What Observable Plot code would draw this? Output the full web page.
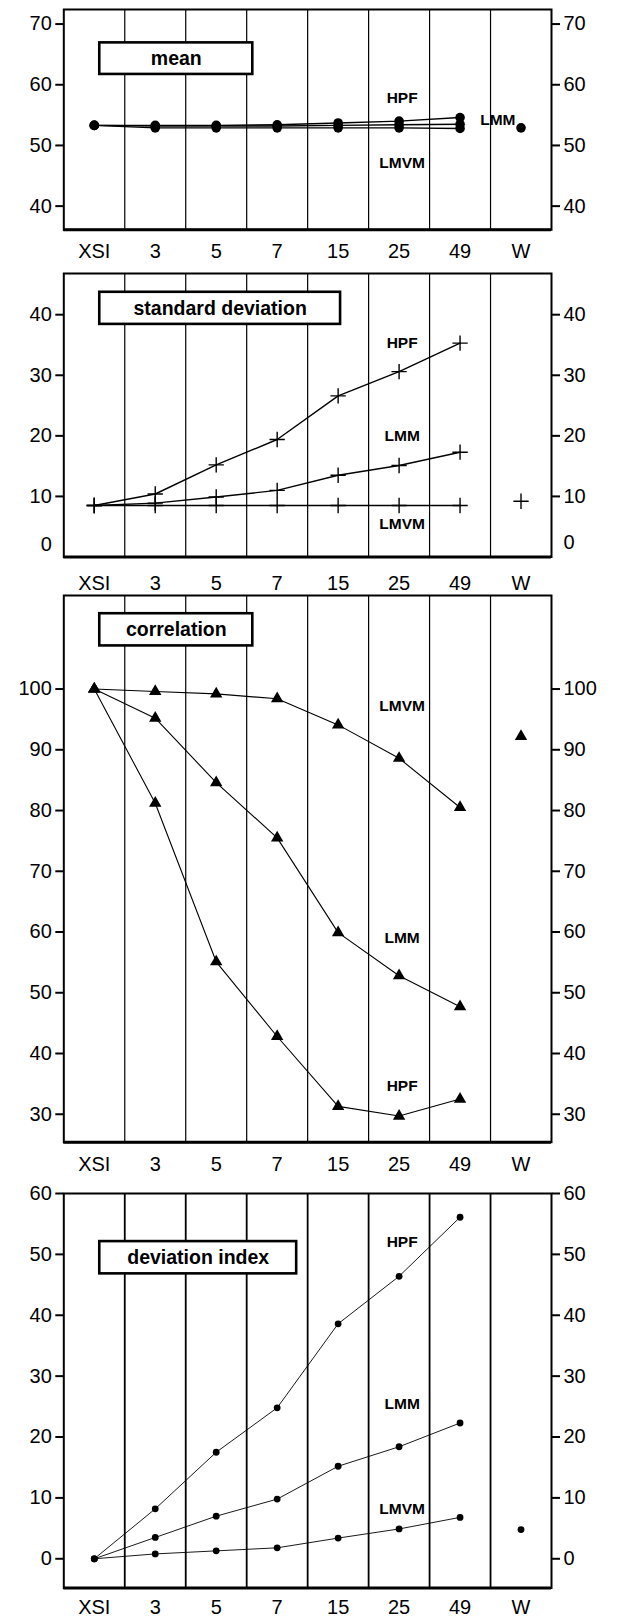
<!DOCTYPE html>
<html><head><meta charset="utf-8">
<script src="https://cdn.jsdelivr.net/npm/d3@7"></script>
<script src="https://cdn.jsdelivr.net/npm/@observablehq/plot@0.6"></script>
<style>
body{margin:0;background:#fff;}
#root{position:relative;width:619px;height:1616px;background:#fff;}
#root svg{position:absolute;left:0;}
</style></head><body><div id="root"></div>
<script>
// ---------- data ----------
const categories = ["XSI","3","5","7","15","25","49","W"];
const methods = ["HPF","LMM","LMVM"];

const meanHPF  = [53.3, 53.3, 53.3, 53.4, 53.7, 54.0, 54.6];
const meanLMM  = [53.3, 53.2, 53.2, 53.2, 53.3, 53.4, 53.5];
const meanLMVM = [53.3, 52.9, 52.9, 52.9, 52.9, 52.9, 52.8];
const meanW    = 52.9;

const sdHPF  = [8.5, 10.4, 15.2, 19.4, 26.6, 30.6, 35.3];
const sdLMM  = [8.5, 8.9, 9.9, 11.0, 13.5, 15.1, 17.3];
const sdLMVM = [8.5, 8.5, 8.5, 8.5, 8.5, 8.5, 8.5];
const sdW    = 9.2;

const corHPF  = [100, 81.2, 55.1, 42.8, 31.3, 29.7, 32.5];
const corLMM  = [100, 95.2, 84.6, 75.5, 59.9, 52.8, 47.7];
const corLMVM = [100, 99.6, 99.2, 98.4, 94.1, 88.6, 80.5];
const corW    = 92.2;

const devHPF  = [0, 8.2, 17.5, 24.8, 38.6, 46.4, 56.1];
const devLMM  = [0, 3.5, 7.0, 9.8, 15.2, 18.4, 22.3];
const devLMVM = [0, 0.8, 1.3, 1.8, 3.4, 4.9, 6.8];
const devW    = 4.8;

const ticksMean = [40, 50, 60, 70];
const ticksSD   = [10, 20, 30, 40];
const ticksCor  = [30, 40, 50, 60, 70, 80, 90, 100];
const ticksDev  = [0, 10, 20, 30, 40, 50, 60];

const titles = ["mean", "standard deviation", "correlation", "deviation index"];

// ---------- layout / style ----------
const FONT = "'Liberation Sans', Arial, Helvetica, sans-serif";
const LEFT = 63.3, RIGHT = 551, W = 619;

function rows(series) {
  const out = [];
  methods.forEach((m, k) => series[k].forEach((v, i) => out.push({method: m, x: i + 0.5, y: v})));
  return out;
}

const panels = [
  {title: titles[0], series: [meanHPF, meanLMM, meanLMVM], w: meanW, ticks: ticksMean,
   top: 9, bottom: 229.3, domain: [36.1, 72.4], gap: 20.7,
   box: {x1: 0.59, x2: 3.1, y1: 61.7, y2: 66.9},
   labels: [{t: "HPF", x: 5.55, y: 57.8}, {t: "LMM", x: 7.12, y: 54.2}, {t: "LMVM", x: 5.55, y: 47.1}],
   symbol: "circle", r: 4.8, filled: true, lw: 1.4, grid: 1.2},
  {title: titles[1], series: [sdHPF, sdLMM, sdLMVM], w: sdW, ticks: ticksSD, zeroShift: true,
   top: 272.5, bottom: 556, domain: [0, 46.8], gap: 25.7,
   box: {x1: 0.59, x2: 4.54, y1: 38.4, y2: 43.7},
   labels: [{t: "HPF", x: 5.55, y: 35.3}, {t: "LMM", x: 5.55, y: 20.05}, {t: "LMVM", x: 5.55, y: 5.45}],
   symbol: "plus", r: 5, filled: false, lw: 1.4, grid: 1.2},
  {title: titles[2], series: [corHPF, corLMM, corLMVM], w: corW, ticks: ticksCor,
   top: 595, bottom: 1141.7, domain: [25.4, 115.4], gap: 21.5,
   box: {x1: 0.59, x2: 3.1, y1: 107.1, y2: 112.4},
   labels: [{t: "LMVM", x: 5.55, y: 97.2}, {t: "LMM", x: 5.55, y: 59.0}, {t: "HPF", x: 5.55, y: 34.6}],
   symbol: "triangle", r: 4.6, filled: true, lw: 1.1, grid: 1.2},
  {title: titles[3], series: [devHPF, devLMM, devLMVM], w: devW, ticks: ticksDev,
   top: 1193, bottom: 1587.5, domain: [-4.8, 60], gap: 19.2,
   box: {x1: 0.59, x2: 3.82, y1: 46.8, y2: 52.1},
   labels: [{t: "HPF", x: 5.55, y: 52.0}, {t: "LMM", x: 5.55, y: 25.5}, {t: "LMVM", x: 5.55, y: 8.1}],
   symbol: "circle", r: 3.4, filled: true, lw: 0.9, grid: 1.8}
];

const root = document.getElementById("root");

panels.forEach(p => {
  const mt = 9, mb = 32;
  const data = rows(p.series);
  const wRow = [{x: categories.length - 0.5, y: p.w}];
  const dotOpts = p.filled
    ? {x: "x", y: "y", symbol: p.symbol, r: p.r, fill: "black", stroke: "none"}
    : {x: "x", y: "y", symbol: p.symbol, r: p.r, fill: "none", stroke: "black", strokeWidth: 1.4};
  const axisCommon = {tickSize: 8, tickPadding: 4, strokeWidth: 2, fontSize: 20, fontFamily: FONT, fill: "black"};
  const marks = [
    Plot.ruleX(d3.range(1, categories.length), {stroke: "black", strokeWidth: p.grid}),
    Plot.frame({stroke: "black", strokeWidth: 2}),
    Plot.ruleY([p.domain[0]], {stroke: "black", strokeWidth: 3}),
    Plot.axisY(p.ticks, {anchor: "left", ...axisCommon}),
    Plot.axisY(p.ticks, {anchor: "right", ...axisCommon}),
    Plot.axisX(categories.map((c, i) => i + 0.5), {anchor: "bottom", tickSize: 0, tickPadding: p.gap - 7,
      tickFormat: d => categories[Math.floor(d)], fontSize: 20, fontFamily: FONT, fill: "black"}),
    Plot.line(data, {x: "x", y: "y", z: "method", stroke: "black", strokeWidth: p.lw}),
    Plot.dot(data, dotOpts),
    Plot.dot(wRow, dotOpts),
    Plot.rect([p.box], {x1: "x1", x2: "x2", y1: "y1", y2: "y2", fill: "white", stroke: "black", strokeWidth: 2.6}),
    Plot.text([p.box], {x: d => (d.x1 + d.x2) / 2, y: d => (d.y1 + d.y2) / 2, text: () => p.title,
      fontSize: 19.5, fontWeight: "bold", fontFamily: FONT, fill: "black"}),
    Plot.text(p.labels, {x: "x", y: "y", text: "t", fontSize: 15.5, fontWeight: "bold", fontFamily: FONT,
      fill: "black", letterSpacing: "0.5px"})
  ];
  if (p.zeroShift) {
    marks.push(Plot.axisY([0], {anchor: "left", tickSize: 0, tickPadding: 12, dy: -12, fontSize: 20, fontFamily: FONT, fill: "black"}));
    marks.push(Plot.axisY([0], {anchor: "right", tickSize: 0, tickPadding: 12, dy: -14, fontSize: 20, fontFamily: FONT, fill: "black"}));
  }
  const svg = Plot.plot({
    width: W, height: (p.bottom - p.top) + mt + mb,
    marginLeft: LEFT, marginRight: W - RIGHT, marginTop: mt, marginBottom: mb,
    x: {domain: [0, categories.length]},
    y: {domain: p.domain},
    style: {fontFamily: FONT, fontSize: "20px", background: "transparent", color: "black", overflow: "visible"},
    marks
  });
  svg.style.top = (p.top - mt) + "px";
  root.appendChild(svg);
});
</script>
</body></html>
